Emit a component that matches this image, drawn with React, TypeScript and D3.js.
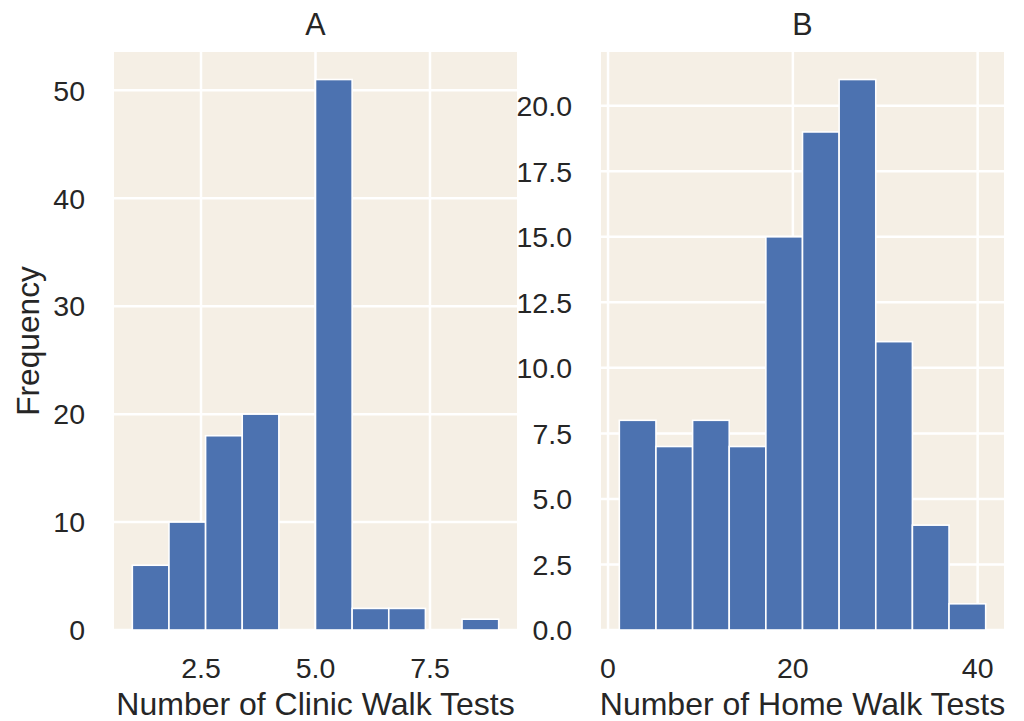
import React from "react";
import * as d3 from "d3";

const clinicCounts = [6, 10, 18, 20, 0, 51, 2, 2, 0, 1];
const clinicMin = 1;
const clinicMax = 9;
const clinicXTicks = [2.5, 5.0, 7.5];
const clinicYTicks = [0, 10, 20, 30, 40, 50];

const homeCounts = [8, 7, 8, 7, 15, 19, 21, 11, 4, 1];
const homeMin = 1.22;
const homeMax = 40.87;
const homeXTicks = [0, 20, 40];
const homeYTicks = [0, 2.5, 5, 7.5, 10, 12.5, 15, 17.5, 20];

const W = 1024;
const H = 721;
const BG = "#f5efe5";
const BAR = "#4c72b0";
const TXT = "#262626";
const FONT = "'Liberation Sans', Arial, 'DejaVu Sans', sans-serif";

type PanelProps = {
  left: number;
  right: number;
  top: number;
  bottom: number;
  counts: number[];
  min: number;
  max: number;
  xTicks: number[];
  yTicks: number[];
  xFmt: (v: number) => string;
  yFmt: (v: number) => string;
  title: string;
  xLabel: string;
  yLabel?: string;
};

function Panel(p: PanelProps) {
  const span = p.max - p.min;
  const x = d3
    .scaleLinear()
    .domain([p.min - 0.05 * span, p.max + 0.05 * span])
    .range([p.left, p.right]);
  const ymax = d3.max(p.counts)! * 1.05;
  const y = d3.scaleLinear().domain([0, ymax]).range([p.bottom, p.top]);
  const n = p.counts.length;
  const bw = span / n;
  const cx = (p.left + p.right) / 2;
  const cy = (p.top + p.bottom) / 2;
  return (
    <g>
      <rect x={p.left} y={p.top} width={p.right - p.left} height={p.bottom - p.top} fill={BG} />
      {p.xTicks.map((t) => (
        <line key={"gx" + t} x1={x(t)} x2={x(t)} y1={p.top} y2={p.bottom} stroke="#fff" strokeWidth={2.5} />
      ))}
      {p.yTicks.map((t) => (
        <line key={"gy" + t} x1={p.left} x2={p.right} y1={y(t)} y2={y(t)} stroke="#fff" strokeWidth={2.5} />
      ))}
      {p.counts.map((c, i) => {
        const x0 = x(p.min + i * bw);
        const x1 = x(p.min + (i + 1) * bw);
        if (c === 0) return null;
        return (
          <rect
            key={"b" + i}
            x={x0}
            y={y(c)}
            width={x1 - x0}
            height={y(0) - y(c)}
            fill={BAR}
            stroke="#fff"
            strokeWidth={1.6}
          />
        );
      })}
      {p.xTicks.map((t) => (
        <text key={"tx" + t} x={x(t)} y={p.bottom + 48} textAnchor="middle" fontSize={28.5} fill={TXT}>
          {p.xFmt(t)}
        </text>
      ))}
      {p.yTicks.map((t) => (
        <text key={"ty" + t} x={p.left - 29} y={y(t)} dy="0.36em" textAnchor="end" fontSize={28.5} fill={TXT}>
          {p.yFmt(t)}
        </text>
      ))}
      <text x={cx} y={35} textAnchor="middle" fontSize={30.5} fill={TXT}>
        {p.title}
      </text>
      <text x={cx} y={715} textAnchor="middle" fontSize={32} fill={TXT}>
        {p.xLabel}
      </text>
      {p.yLabel && (
        <text transform={`translate(39,${cy}) rotate(-90)`} textAnchor="middle" fontSize={31.7} fill={TXT}>
          {p.yLabel}
        </text>
      )}
    </g>
  );
}

export default function App() {
  const fmt1 = d3.format(".1f");
  const fmt0 = d3.format("d");
  return (
    <svg
      width={W}
      height={H}
      style={{ position: "absolute", left: 0, top: 0, background: "#fff", fontFamily: FONT }}
    >
      <rect x={0} y={0} width={W} height={H} fill="#fff" />
      <Panel
        left={114}
        right={517}
        top={52}
        bottom={630}
        counts={clinicCounts}
        min={clinicMin}
        max={clinicMax}
        xTicks={clinicXTicks}
        yTicks={clinicYTicks}
        xFmt={fmt1}
        yFmt={fmt0}
        title="A"
        xLabel="Number of Clinic Walk Tests"
        yLabel="Frequency"
      />
      <Panel
        left={601}
        right={1004}
        top={52}
        bottom={630}
        counts={homeCounts}
        min={homeMin}
        max={homeMax}
        xTicks={homeXTicks}
        yTicks={homeYTicks}
        xFmt={fmt0}
        yFmt={fmt1}
        title="B"
        xLabel="Number of Home Walk Tests"
      />
    </svg>
  );
}
